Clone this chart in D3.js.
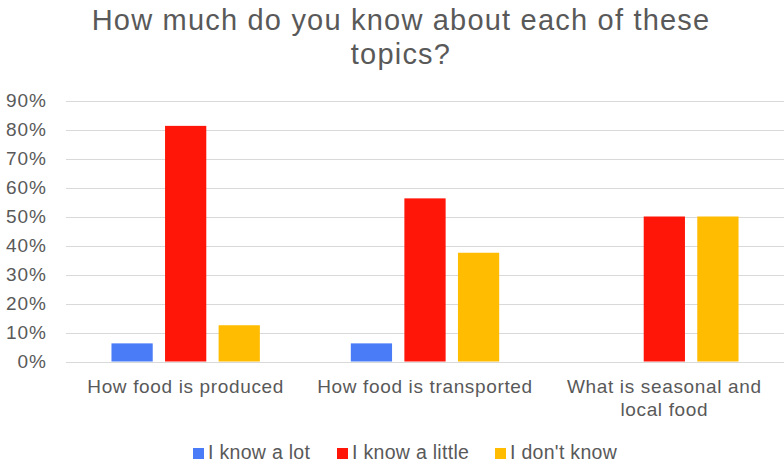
<!DOCTYPE html>
<html>
<head>
<meta charset="utf-8">
<script src="https://cdn.jsdelivr.net/npm/d3@7"></script>
<style>
  html, body { margin: 0; padding: 0; background: #fff; }
  svg { display: block; font-family: "Liberation Sans", Arial, sans-serif; }
</style>
</head>
<body>
<svg id="chart" width="784" height="465"></svg>
<script>
// Survey answers, share of respondents per topic
const topics = ["How food is produced", "How food is transported", "What is seasonal and local food"];
const seriesNames = ["I know a lot", "I know a little", "I don't know"];
const knowALot = [0.0625, 0.0625, 0];
const knowALittle = [0.8125, 0.5625, 0.5];
const dontKnow = [0.125, 0.375, 0.5];
const yTicks = [0, 0.1, 0.2, 0.3, 0.4, 0.5, 0.6, 0.7, 0.8, 0.9];
const colors = ["#4a7cf7", "#ff1608", "#ffbc00"];

const seriesValues = [knowALot, knowALittle, dontKnow];
const rows = topics.map((t, i) => ({
  topic: t,
  values: seriesNames.map((s, j) => ({ series: s, value: seriesValues[j][i], color: colors[j] }))
}));

const svg = d3.select("#chart");
const textColor = "#595959";
const plotLeft = 66, plotRight = 784, plotTop = 100.5, plotBottom = 361.5;

const x = d3.scaleBand().domain(topics).range([plotLeft, plotRight]).padding(0);
const xInner = d3.scaleBand().domain(seriesNames)
  .range([x.bandwidth() * 0.19, x.bandwidth() * 0.81]).paddingInner(0.23).paddingOuter(0);
const y = d3.scaleLinear().domain([0, 0.9]).range([plotBottom, plotTop]);

// Title
svg.append("text")
  .attr("x", 401).attr("y", 29.5)
  .attr("text-anchor", "middle")
  .attr("font-size", 29).attr("letter-spacing", 1.2).attr("fill", textColor)
  .selectAll("tspan")
  .data(["How much do you know about each of these", "topics?"])
  .join("tspan")
  .attr("x", 401)
  .attr("dy", (d, i) => i === 0 ? 0 : 34)
  .text(d => d);

// Gridlines
svg.append("g")
  .selectAll("line")
  .data(yTicks)
  .join("line")
  .attr("x1", plotLeft).attr("x2", plotRight)
  .attr("y1", d => Math.round(y(d)) + 0.5).attr("y2", d => Math.round(y(d)) + 0.5)
  .attr("stroke", "#d9d9d9").attr("stroke-width", 1);

// Y axis labels
const yAxis = d3.axisLeft(y).tickValues(yTicks).tickFormat(d3.format(".0%")).tickSize(0).tickPadding(0);
const yg = svg.append("g").attr("transform", "translate(47,0)").call(yAxis);
yg.select(".domain").remove();
yg.selectAll("text")
  .attr("font-size", 19).attr("letter-spacing", 1).attr("fill", textColor)
  .attr("font-family", "Liberation Sans, Arial, sans-serif");

// Bars
const groups = svg.append("g")
  .selectAll("g")
  .data(rows)
  .join("g")
  .attr("transform", d => `translate(${x(d.topic)},0)`);

groups.selectAll("rect")
  .data(d => d.values.filter(v => v.value > 0))
  .join("rect")
  .attr("x", d => xInner(d.series))
  .attr("width", xInner.bandwidth())
  .attr("y", d => y(d.value))
  .attr("height", d => y(0) - y(d.value))
  .attr("fill", d => d.color);

// Category labels (wrapped to fit the band)
const labelLines = {
  "How food is produced": ["How food is produced"],
  "How food is transported": ["How food is transported"],
  "What is seasonal and local food": ["What is seasonal and", "local food"]
};
svg.append("g")
  .selectAll("text")
  .data(topics)
  .join("text")
  .attr("text-anchor", "middle")
  .attr("font-size", 19).attr("letter-spacing", 0.65).attr("fill", textColor)
  .attr("y", 392.5)
  .each(function(t) {
    d3.select(this).selectAll("tspan")
      .data(labelLines[t])
      .join("tspan")
      .attr("x", x(t) + x.bandwidth() / 2)
      .attr("dy", (d, i) => i === 0 ? 0 : 23)
      .text(d => d);
  });

// Legend
const legendX = [193, 337, 495];
const legend = svg.append("g")
  .selectAll("g")
  .data(seriesNames)
  .join("g")
  .attr("transform", (d, i) => `translate(${legendX[i]},448)`);
legend.append("rect")
  .attr("width", 11).attr("height", 11)
  .attr("fill", (d, i) => colors[i]);
legend.append("text")
  .attr("x", 15).attr("y", 11.3)
  .attr("font-size", 19.5).attr("letter-spacing", 0.3).attr("fill", textColor)
  .text(d => d);
</script>
</body>
</html>
